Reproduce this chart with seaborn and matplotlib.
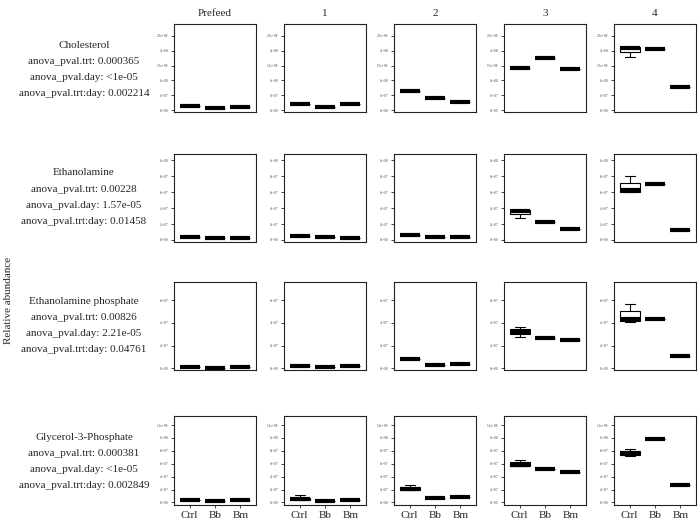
import numpy as np
import pandas as pd
import matplotlib
matplotlib.use("Agg")
import matplotlib.pyplot as plt
import seaborn as sns

days = ["Prefeed", "1", "2", "3", "4"]
groups = ["Ctrl", "Bb", "Bm"]

# each box: [low whisker, q1, median, q3, high whisker] or a single value (flat box)
cholesterol = [
    [[13.5e6], [6e6], [10e6]],
    [[20e6], [11e6], [19e6]],
    [[64e6], [39.5e6], [27e6]],
    [[141e6], [175e6], [138e6]],
    [[179e6, 195e6, 210e6, 214e6, 214e6], [206e6], [79e6]],
]
ethanolamine = [
    [[4e6], [2.5e6], [3e6]],
    [[4.5e6], [3.5e6], [2.5e6]],
    [[6e6], [3.5e6], [3.5e6]],
    [[28e6, 32.3e6, 36.5e6, 37.7e6, 37.7e6], [22e6], [13.8e6]],
    [[60.8e6, 60.8e6, 62.5e6, 71.3e6, 80e6], [70.5e6], [12.2e6]],
]
ethanolamine_p = [
    [[1e6], [0.7e6], [1.1e6]],
    [[1.6e6], [1.1e6], [2e6]],
    [[8.2e6], [2.9e6], [3.8e6]],
    [[27.8e6, 30e6, 31.7e6, 34.4e6, 36.1e6], [26.4e6], [24.9e6]],
    [[41e6, 41.9e6, 43.7e6, 50.2e6, 56.7e6], [43.4e6], [10.8e6]],
]
glycerol3p = [
    [[3.6e6], [2e6], [4e6]],
    [[3e6, 4.5e6, 5.9e6, 7.5e6, 11e6], [2e6], [4.3e6]],
    [[19e6, 19e6, 21e6, 23.7e6, 26.4e6], [7.2e6], [8.7e6]],
    [[56.3e6, 56.3e6, 57.8e6, 63e6, 66e6], [52e6], [46.5e6]],
    [[71.3e6, 73.3e6, 76.9e6, 80e6, 83.1e6], [98.6e6], [27.3e6]],
]

names = ["Cholesterol", "Ethanolamine", "Ethanolamine phosphate", "Glycerol-3-Phosphate"]
pval_trt = ["0.000365", "0.00228", "0.00826", "0.000381"]
pval_day = ["<1e-05", "1.57e-05", "2.21e-05", "<1e-05"]
pval_trtday = ["0.002214", "0.01458", "0.04761", "0.002849"]
all_data = [cholesterol, ethanolamine, ethanolamine_p, glycerol3p]

row_ticks = [np.arange(0, 2.51e8, 5e7), np.arange(0, 1.01e8, 2e7),
             np.arange(0, 6.1e7, 2e7), np.arange(0, 1.21e8, 2e7)]
row_ylim = [(-5e6, 2.9e8), (-1.9e6, 1.08e8), (-1.5e6, 7.6e7), (-4e6, 1.34e8)]

sns.set_style("ticks")
plt.rcParams["font.family"] = ["Liberation Serif", "DejaVu Serif"]

W, H = 700, 519
fig = plt.figure(figsize=(7, 5.19), dpi=100)

col_left = [174, 284, 394, 504, 614]
row_top = [24, 154, 282, 416]
row_bot = [111.5, 241.5, 370, 505]
text_y = [46, 173, 301, 437]


def sci(v):
    if v == 0:
        return "0e+00"
    return f"{v:.1e}".replace(".0e", "e")


for r in range(4):
    for c in range(5):
        ax = fig.add_axes([col_left[c] / W, 1 - row_bot[r] / H, 82 / W,
                           (row_bot[r] - row_top[r]) / H])
        rows = []
        for g, box in zip(groups, all_data[r][c]):
            vals = box if len(box) == 5 else box * 5
            for v in vals:
                rows.append({"group": g, "value": v})
        df = pd.DataFrame(rows)
        sns.boxplot(data=df, x="group", y="value", order=groups, ax=ax,
                    color="white", linecolor="black", linewidth=0.8,
                    width=0.8, whis=(0, 100), showfliers=False, saturation=1,
                    medianprops={"linewidth": 3, "color": "black"})
        ax.set_xlim(-0.62, 2.62)
        ax.set_ylim(row_ylim[r])
        ax.set_yticks(row_ticks[r])
        ax.set_yticklabels([sci(v) for v in row_ticks[r]], fontsize=2.5, color="#444444")
        ax.tick_params(axis="y", length=2.5, width=0.6, pad=1.5)
        ax.set_xlabel("")
        ax.set_ylabel("")
        for s in ax.spines.values():
            s.set_linewidth(0.8)
            s.set_color("#222222")
        if r == 3:
            ax.tick_params(axis="x", length=2.5, width=0.6, labelsize=8, pad=2)
        else:
            ax.set_xticks([])
        if r == 0:
            ax.set_title(days[c], fontsize=8, pad=6)

    lines = [names[r], "anova_pval.trt: " + pval_trt[r],
             "anova_pval.day: " + pval_day[r], "anova_pval.trt:day: " + pval_trtday[r]]
    for i, t in enumerate(lines):
        fig.text(84 / W, 1 - (text_y[r] + 16 * i) / H, t, ha="center", va="center", fontsize=8)

fig.text(9 / W, 1 - 300 / H, "Relative abundance", rotation=90, ha="center", va="center", fontsize=8)

fig.savefig("out.png", dpi=100)
